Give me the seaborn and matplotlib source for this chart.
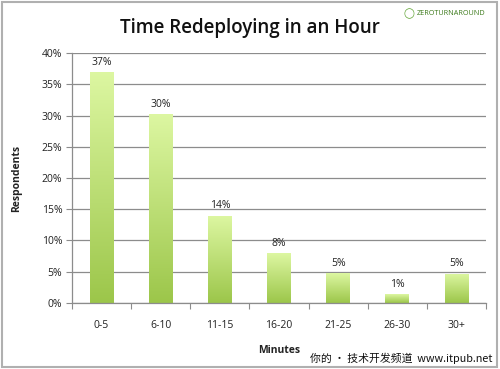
import numpy as np
import pandas as pd
import matplotlib
matplotlib.use("Agg")
import matplotlib.pyplot as plt
import seaborn as sns
from matplotlib.colors import LinearSegmentedColormap
from matplotlib.patches import Rectangle

categories = ["0-5", "6-10", "11-15", "16-20", "21-25", "26-30", "30+"]
values = [37, 30.3, 14, 8, 4.8, 1.4, 4.7]
labels = ["37%", "30%", "14%", "8%", "5%", "1%", "5%"]
yticks = [0, 5, 10, 15, 20, 25, 30, 35, 40]

sns.set_theme(style="white")
plt.rcParams['font.family'] = ['Open Sans', 'DejaVu Sans']

fig = plt.figure(figsize=(5, 3.69), dpi=100)
ax = fig.add_axes([0.144, 0.179, 0.828, 0.677])

df = pd.DataFrame({"Minutes": categories, "Respondents": values})
sns.barplot(data=df, x="Minutes", y="Respondents", ax=ax, color="#b5d96a",
            width=0.4, saturation=1)

ax.set_ylim(0, 40)
ax.set_xlim(-0.5, len(categories) - 0.5)
ax.set_yticks(yticks)
ax.set_yticklabels([f"{t}%" for t in yticks], fontsize=7.5, color="#222222")
ax.yaxis.grid(True, color="#8c8c8c", linewidth=0.9)
ax.set_axisbelow(True)
ax.tick_params(axis="x", length=0, labelsize=7.5, pad=12, colors="#222222")
ax.tick_params(axis="y", length=4, width=0.8, color="#8c8c8c", left=True, pad=3)
for s in ["top", "right"]:
    ax.spines[s].set_visible(False)
for s in ["left", "bottom"]:
    ax.spines[s].set_color("#8c8c8c")
    ax.spines[s].set_linewidth(0.9)
ax.set_xticks(np.arange(len(categories)))
ax.set_xticks(np.arange(-0.5, len(categories), 1), minor=True)
ax.tick_params(axis="x", which="minor", length=4, width=0.8, color="#8c8c8c", bottom=True)

ax.set_xlabel("Minutes", fontsize=7.5, fontweight="bold", labelpad=10, color="#222222")
ax.set_ylabel("Respondents", fontsize=7.5, fontweight="bold", labelpad=14, color="#222222")

cmap = LinearSegmentedColormap.from_list("g", ["#9cc64a", "#ddf7a2"])
grad = np.linspace(0, 1, 256).reshape(-1, 1)
for p, lab in zip(ax.patches, labels):
    x0, y0 = p.get_x(), p.get_y()
    w, h = p.get_width(), p.get_height()
    p.set_facecolor("none")
    p.set_edgecolor("none")
    im = ax.imshow(grad, cmap=cmap, aspect="auto", origin="lower",
                   extent=[x0, x0 + w, y0, y0 + h], zorder=2)
    clip = Rectangle((x0, y0), w, h, transform=ax.transData)
    im.set_clip_path(clip)
    ax.annotate(lab, (x0 + w / 2, y0 + h), xytext=(0, 3), textcoords="offset points",
                ha="center", va="bottom", fontsize=7.5, color="#222222")
ax.set_xlim(-0.5, len(categories) - 0.5)
ax.set_ylim(0, 40)

fig.text(0.5, 0.925, "Time Redeploying in an Hour", ha="center", va="center",
         fontsize=13.5, fontweight="semibold", color="#111111")
fig.text(0.818, 0.963, "◯", ha="center", va="center", fontsize=7, color="#5aa02c",
         family=["DejaVu Sans"])
fig.text(0.834, 0.963, "ZEROTURNAROUND", ha="left", va="center", fontsize=5.2,
         color="#3c7a1a")
fig.text(0.985, 0.03, "你的 • 技术开发频道  www.itpub.net", ha="right", va="center",
         fontsize=7.8, color="#111111", family=["Noto Sans CJK SC", "DejaVu Sans"])

fig.patches.append(Rectangle((0.004, 0.006), 0.99, 0.988, transform=fig.transFigure,
                             fill=False, edgecolor="#b0b0b0", linewidth=1.5))
fig.savefig("out.png", dpi=100)
